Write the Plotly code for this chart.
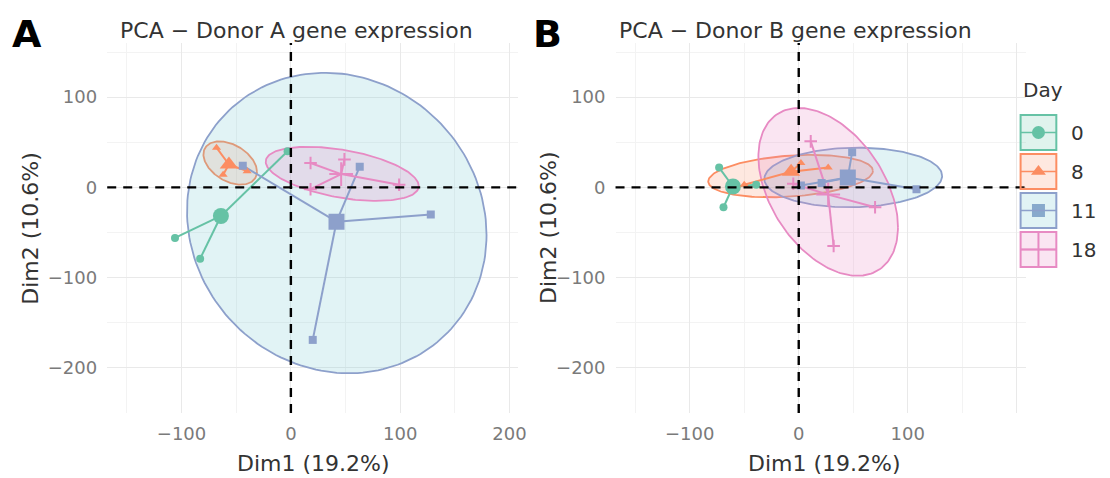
import numpy as np
import plotly.graph_objects as go

days = ["0", "8", "11", "18"]
colors = ["#66c2a5", "#fc8d62", "#8da0cb", "#e78ac3"]
fills = ["rgba(102,194,165,0.20)", "rgba(252,141,98,0.20)",
         "rgba(120,200,210,0.22)", "rgba(231,138,195,0.22)"]
symbols = ["circle", "triangle-up", "square", "cross-thin"]

# ---- Donor A individual coordinates (Dim1, Dim2) per day ----
a_x = [[-106, -83, -3], [-68, -62, -40], [-44, 63, 128, 20], [18, 49, 18, 99]]
a_y = [[-56, -79, 40], [44, 14, 18], [24, 23, -30, -169], [27, 31, -2, 3]]
# ---- Donor B ----
b_x = [[-73, -69, -39], [-50, 2, 27], [49, 108, 2, 21], [11, 32, 70, -5]]
b_y = [[22, -22, 3], [3, 27, 22], [39, -2, 2, 5], [51, -65, -22, 4]]

# concentration ellipses: center x, center y, half-extent x, half-extent y, correlation
# (None = no ellipse drawn for that day)
a_ell = [None, (-55.5, 27, 24.5, 24, -0.4), (42, -39.5, 137, 166.5, -0.08), (47, 15, 70, 30, -0.45)]
b_ell = [None, (-7.5, 12.5, 75.5, 23.5, 0.25), (50, 11, 81.5, 33, 0.05), (27, -5, 64, 93, -0.42)]

x_range = [-168, 208]
y_range = [-250, 160]

FONT = "DejaVu Sans"
fig = go.Figure()


def ellipse(p):
    cx, cy, hx, hy, r = p
    t = np.linspace(0, 2 * np.pi, 181)
    ex = cx + hx * np.cos(t)
    ey = cy + hy * (r * np.cos(t) + np.sqrt(1 - r * r) * np.sin(t))
    return ex, ey


def add_panel(xs, ys, ells, xa, ya):
    # ellipses
    for i in range(4):
        if ells[i] is None:
            continue
        ex, ey = ellipse(ells[i])
        fig.add_trace(go.Scatter(x=ex, y=ey, mode="lines", fill="toself",
                                 fillcolor=fills[i], line=dict(color=colors[i], width=1.8),
                                 xaxis=xa, yaxis=ya, showlegend=False, hoverinfo="skip"))
    # star lines
    for i in range(4):
        mx, my = float(np.mean(xs[i])), float(np.mean(ys[i]))
        lx, ly = [], []
        for px, py in zip(xs[i], ys[i]):
            lx += [mx, px, None]
            ly += [my, py, None]
        fig.add_trace(go.Scatter(x=lx, y=ly, mode="lines",
                                 line=dict(color=colors[i], width=2),
                                 xaxis=xa, yaxis=ya, showlegend=False, hoverinfo="skip"))
    # points + centroids
    for i in range(4):
        mx, my = float(np.mean(xs[i])), float(np.mean(ys[i]))
        lw = 2 if symbols[i] == "cross-thin" else 0
        fig.add_trace(go.Scatter(x=xs[i], y=ys[i], mode="markers",
                                 marker=dict(symbol=symbols[i], size=9 if lw else 8, color=colors[i],
                                             line=dict(color=colors[i], width=lw)),
                                 xaxis=xa, yaxis=ya, showlegend=False, name="Day " + days[i]))
        fig.add_trace(go.Scatter(x=[mx], y=[my], mode="markers",
                                 marker=dict(symbol=symbols[i], size=17 if lw else 16, color=colors[i],
                                             line=dict(color=colors[i], width=lw)),
                                 xaxis=xa, yaxis=ya, showlegend=False, name="Day " + days[i] + " mean"))


add_panel(a_x, a_y, a_ell, "x", "y")
add_panel(b_x, b_y, b_ell, "x2", "y2")

W, H = 1110, 478
# pixel-coordinate helper axes for legend and labels
fig.add_trace(go.Scatter(x=[None], y=[None], xaxis="x3", yaxis="y3", showlegend=False))

grid_major = "#e9e9e9"
grid_minor = "#f3f3f3"
tickfont = dict(family=FONT, size=18, color="#7a7a7a")


def xaxis_cfg(domain, labels_200=True):
    d = dict(domain=domain, range=x_range, showgrid=True, gridcolor=grid_major, gridwidth=1.2,
             zeroline=False, showline=False, ticks="", tickfont=tickfont, ticklabelstandoff=8,
             minor=dict(tickmode="linear", tick0=-150, dtick=50, showgrid=True,
                        gridcolor=grid_minor, gridwidth=0.8))
    d["tickmode"] = "array"
    d["tickvals"] = [-100, 0, 100, 200]
    d["ticktext"] = ["\u2212100", "0", "100", "200" if labels_200 else ""]
    return d


def yaxis_cfg(anchor):
    return dict(domain=[1 - 413 / H, 1 - 43 / H], range=y_range, anchor=anchor,
                showgrid=True, gridcolor=grid_major, gridwidth=1.2, zeroline=False,
                showline=False, ticks="", tickfont=tickfont, ticklabelstandoff=9,
                tickmode="array", tickvals=[-200, -100, 0, 100],
                ticktext=["\u2212200", "\u2212100", "0", "100"],
                minor=dict(tickmode="linear", tick0=-250, dtick=50, showgrid=True,
                           gridcolor=grid_minor, gridwidth=0.8))


fig.update_layout(
    width=W, height=H, margin=dict(l=0, r=0, t=0, b=0),
    paper_bgcolor="white", plot_bgcolor="rgba(0,0,0,0)",
    showlegend=False,
    xaxis=dict(xaxis_cfg([108 / W, 522 / W]), anchor="y"),
    yaxis=yaxis_cfg("x"),
    xaxis2=dict(xaxis_cfg([620 / W, 1033 / W], labels_200=False), anchor="y2"),
    yaxis2=yaxis_cfg("x2"),
    xaxis3=dict(domain=[0, 1], range=[0, W], visible=False, anchor="y3"),
    yaxis3=dict(domain=[0, 1], range=[H, 0], visible=False, anchor="x3"),
)

# dashed reference lines at 0
for xa, ya in (("x", "y"), ("x2", "y2")):
    fig.add_shape(type="line", xref=xa, yref=ya + " domain", x0=0, x1=0, y0=0, y1=1,
                  line=dict(color="black", width=2.4, dash="9px,7px"), layer="above")
    fig.add_shape(type="line", xref=xa + " domain", yref=ya, x0=0, x1=1, y0=0, y1=0,
                  line=dict(color="black", width=2.4, dash="9px,7px"), layer="above")

# text
def ann(text, x, y, size, color="#333333", bold=False, angle=0, xanchor="center"):
    fig.add_annotation(text="<b>%s</b>" % text if bold else text, x=x, y=y, xref="x3", yref="y3",
                       showarrow=False, xanchor=xanchor, yanchor="middle", textangle=angle,
                       font=dict(family=FONT, size=size, color=color))

ann("A", 27, 34, 38, color="black", bold=True)
ann("B", 551, 34, 38, color="black", bold=True)
ann("PCA \u2212 Donor A gene expression", 299, 30, 22)
ann("PCA \u2212 Donor B gene expression", 801, 30, 22)
ann("Dim1 (19.2%)", 316, 463, 22)
ann("Dim1 (19.2%)", 830, 463, 22)
ann("Dim2 (10.6%)", 30, 228, 22, angle=-90)
ann("Dim2 (10.6%)", 552, 228, 22, angle=-90)

# legend
ann("Day", 1028, 90, 20, xanchor="left")
key_top = [115, 154, 193, 232]
key_h = 35
kx0, kx1 = 1028, 1064
for i in range(4):
    y0 = key_top[i]
    yc = y0 + key_h / 2
    fig.add_shape(type="rect", xref="x3", yref="y3", x0=kx0, x1=kx1, y0=y0, y1=y0 + key_h,
                  fillcolor=fills[i], line=dict(color=colors[i], width=2))
    fig.add_shape(type="line", xref="x3", yref="y3", x0=kx0, x1=kx1, y0=yc, y1=yc,
                  line=dict(color=colors[i], width=1.5))
    lw = 2 if symbols[i] == "cross-thin" else 0
    fig.add_trace(go.Scatter(x=[(kx0 + kx1) / 2], y=[yc], xaxis="x3", yaxis="y3", mode="markers",
                             marker=dict(symbol=symbols[i], size=26 if lw else 13, color=colors[i],
                                         line=dict(color=colors[i], width=lw)),
                             showlegend=False, hoverinfo="skip"))
    ann(days[i], 1077, yc, 20, xanchor="left")

fig.write_html("out.html")
